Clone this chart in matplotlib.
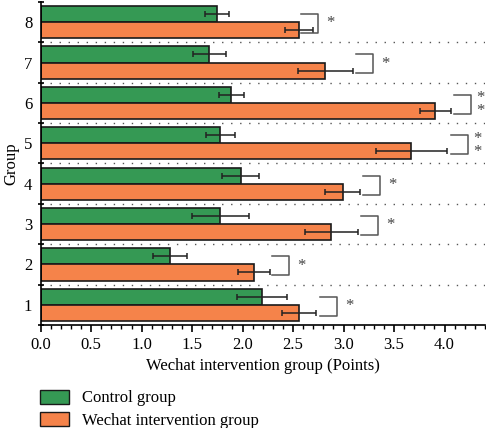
import matplotlib.pyplot as plt
from matplotlib.patches import Patch
from matplotlib.ticker import MultipleLocator
import numpy as np

groups = [1, 2, 3, 4, 5, 6, 7, 8]
control = [2.19, 1.28, 1.78, 1.98, 1.78, 1.89, 1.67, 1.75]
control_err = [0.25, 0.17, 0.28, 0.18, 0.14, 0.12, 0.165, 0.12]
wechat = [2.56, 2.11, 2.88, 2.99, 3.67, 3.91, 2.82, 2.56]
wechat_err = [0.17, 0.16, 0.26, 0.17, 0.35, 0.15, 0.27, 0.14]
# bracket left edge and significance marks
bracket_x = [2.77, 2.29, 3.17, 3.19, 4.06, 4.09, 3.12, 2.58]
sig = ['*', '*', '*', '*', '*\n*', '*\n*', '*', '*']

plt.rcParams['font.family'] = ['Liberation Serif', 'DejaVu Serif']

green = '#359954'
orange = '#f5834a'

fig = plt.figure(figsize=(4.86, 4.28), dpi=100)
ax = fig.add_axes([0.0837, 0.2407, 0.914, 0.7546])

y = np.array(groups, dtype=float)
h = 0.4
ax.barh(y + h / 2, control, height=h, color=green, edgecolor='#1a1a1a', linewidth=1.2, zorder=2)
ax.barh(y - h / 2, wechat, height=h, color=orange, edgecolor='#1a1a1a', linewidth=1.2, zorder=2)
ax.errorbar(control, y + h / 2, xerr=control_err, fmt='none', ecolor='#222222',
            elinewidth=1.1, capsize=2, capthick=1.1, zorder=3)
ax.errorbar(wechat, y - h / 2, xerr=wechat_err, fmt='none', ecolor='#222222',
            elinewidth=1.1, capsize=2, capthick=1.1, zorder=3)

bw = 0.17
for yi, bx, s in zip(y, bracket_x, sig):
    ax.plot([bx, bx + bw, bx + bw, bx], [yi + 0.2, yi + 0.2, yi - 0.27, yi - 0.27],
            color='#555555', lw=1.1, clip_on=False, zorder=3)
    if '\n' in s:
        ax.text(bx + bw + 0.05, yi - 0.05, s, ha='left', va='center', fontsize=12,
                linespacing=0.75, color='#444444', clip_on=False)
    else:
        ax.text(bx + bw + 0.08, yi - 0.03, s, ha='left', va='center', fontsize=12,
                color='#444444', clip_on=False)

for b in np.arange(1.5, 8.5, 1.0):
    ax.axhline(b, color='#555555', lw=1.0, ls=(0, (1, 5.5)), zorder=1)

ax.set_xlim(0, 4.4)
ax.set_ylim(0.5, 8.5)
ax.xaxis.set_major_locator(MultipleLocator(0.5))
ax.xaxis.set_minor_locator(MultipleLocator(0.1))
ax.set_xticks(np.arange(0, 4.01, 0.5))
ax.set_xticklabels([f'{v:.1f}' for v in np.arange(0, 4.01, 0.5)])
ax.set_yticks(np.arange(0.5, 8.6, 1.0))
ax.set_yticklabels([])
ax.set_yticks(y, minor=True)
ax.set_yticklabels([str(g) for g in groups], minor=True)
ax.tick_params(axis='y', which='minor', length=0, pad=6, labelsize=12)
ax.tick_params(axis='y', which='major', length=4, width=1.2, direction='inout')
ax.tick_params(axis='x', which='major', length=5, width=1.2, labelsize=12, pad=4)
ax.tick_params(axis='x', which='minor', length=3, width=1.0)
for sp in ['top', 'right']:
    ax.spines[sp].set_visible(False)
for sp in ['left', 'bottom']:
    ax.spines[sp].set_linewidth(1.2)

ax.set_xlabel('Wechat intervention group (Points)', fontsize=12, labelpad=3)
ax.set_ylabel('Group', fontsize=12, labelpad=3)

handles = [Patch(facecolor=green, edgecolor='#1a1a1a', label='Control group'),
           Patch(facecolor=orange, edgecolor='#1a1a1a', label='Wechat intervention group')]
fig.legend(handles=handles, loc='lower left', bbox_to_anchor=(0.052, -0.037), frameon=False,
           fontsize=12, handlelength=1.7, handleheight=0.9, labelspacing=0.35, handletextpad=0.8)

fig.savefig('out.png', dpi=100)
